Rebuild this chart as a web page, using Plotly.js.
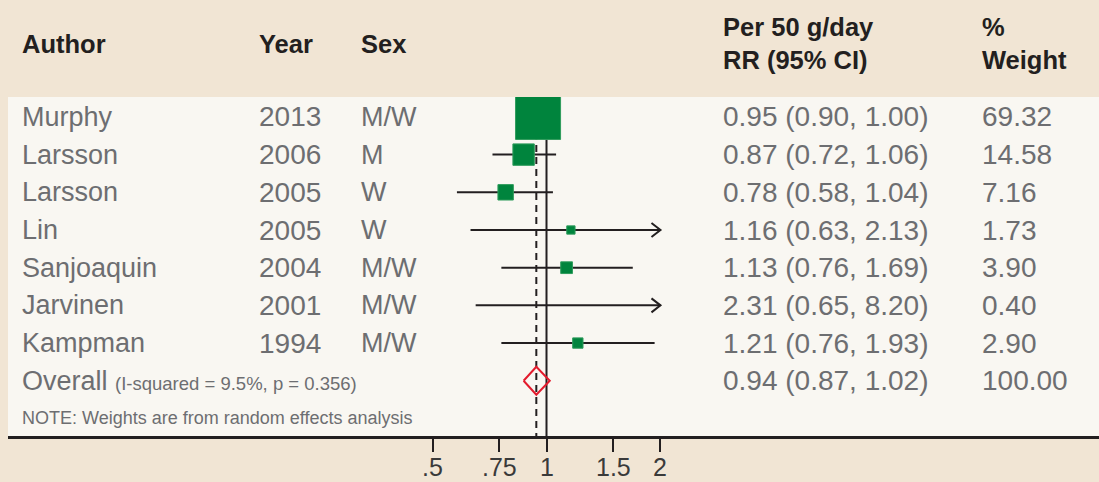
<!DOCTYPE html>
<html>
<head>
<meta charset="utf-8">
<script src="https://cdn.plot.ly/plotly-3.0.1.min.js"></script>
<style>html,body{margin:0;padding:0;background:#f1e5d4;}#chart{width:1099px;height:482px;}</style>
</head>
<body>
<div id="chart"></div>
<script>
// ---- data ----
const authors = ['Murphy','Larsson','Larsson','Lin','Sanjoaquin','Jarvinen','Kampman'];
const years = ['2013','2006','2005','2005','2004','2001','1994'];
const sexes = ['M/W','M','W','W','M/W','M/W','M/W'];
const rr = [0.95, 0.87, 0.78, 1.16, 1.13, 2.31, 1.21];
const ciLow = [0.90, 0.72, 0.58, 0.63, 0.76, 0.65, 0.76];
const ciHigh = [1.00, 1.06, 1.04, 2.13, 1.69, 8.20, 1.93];
const weights = [69.32, 14.58, 7.16, 1.73, 3.90, 0.40, 2.90];
const overallRR = 0.94, overallLow = 0.87, overallHigh = 1.02, overallWeight = 100.00;
const iSquared = 9.5, pValue = 0.356;
const tickVals = [0.5, 0.75, 1, 1.5, 2];
const tickText = ['.5', '.75', '1', '1.5', '2'];
const headers = ['Author', 'Year', 'Sex', 'Per 50 g/day<br>RR (95% CI)', '%<br>Weight'];
const noteText = 'NOTE: Weights are from random effects analysis';

// ---- styling ----
const FONT = 'Liberation Sans, Arial, sans-serif';
const DARK = '#231f20';
const GREY = '#6d6e71';
const GREEN = '#00843d';
const RED = '#e31b2d';
const axisMax = tickVals[tickVals.length - 1];
const plotLeft = 8, plotWidth = 1091, plotTop = 97, plotBottom = 436;
const plotH = plotBottom - plotTop;
const colPx = [20, 257, 359, 721, 980];
const colSize = [27, 28, 27, 28, 28];
const px2paper = p => (p - plotLeft) / plotWidth;
const py2paper = p => (plotBottom - p) / plotH;
const n = authors.length;
const yRows = authors.map((_, i) => -i);
const yOverall = -n;
const yNote = -(n + 1);
const yMax = 0.529, yMin = -8.466;

const traces = [];
// reference lines
traces.push({x: [1, 1], y: [yMax, yMin], mode: 'lines', line: {color: DARK, width: 2}, hoverinfo: 'skip'});
traces.push({x: [overallRR, overallRR], y: [yMax, yMin], mode: 'lines', line: {color: DARK, width: 2, dash: '7px,5px'}, hoverinfo: 'skip'});
// CI lines (clipped at axis max)
const ciX = [], ciY = [];
for (let i = 0; i < n; i++) {
  ciX.push(ciLow[i], Math.min(ciHigh[i], axisMax), null);
  ciY.push(yRows[i], yRows[i], null);
}
traces.push({x: ciX, y: ciY, mode: 'lines', line: {color: DARK, width: 2}, hoverinfo: 'skip'});
// weight boxes
const bx = [], by = [], bs = [];
for (let i = 0; i < n; i++) {
  if (rr[i] <= axisMax) { bx.push(rr[i]); by.push(yRows[i]); bs.push(1.4 + 5.24 * Math.sqrt(weights[i])); }
}
traces.push({x: bx, y: by, mode: 'markers', marker: {symbol: 'square', color: GREEN, opacity: 1, size: bs, line: {color: '#2f9c5c', width: 1}}, hoverinfo: 'skip'});
// overall diamond
const dh = 0.37;
traces.push({x: [overallLow, overallRR, overallHigh, overallRR, overallLow],
  y: [yOverall, yOverall + dh, yOverall, yOverall - dh, yOverall],
  mode: 'lines', line: {color: RED, width: 2}, hoverinfo: 'skip'});

// arrows for CIs beyond axis max
const shapes = [];
for (let i = 0; i < n; i++) {
  if (ciHigh[i] > axisMax) {
    shapes.push({type: 'path', xref: 'x', yref: 'y', xsizemode: 'pixel', ysizemode: 'pixel',
      xanchor: axisMax, yanchor: yRows[i], path: 'M-9,7L0,0L-9,-7', line: {color: DARK, width: 2}});
  }
}

const annotations = [];
const txt = (x, y, text, size, color) => ({
  xref: 'paper', yref: 'y', x: px2paper(x), y: y, text: text, showarrow: false,
  xanchor: 'left', yanchor: 'middle', align: 'left',
  font: {family: FONT, size: size, color: color}
});
// headers
headers.forEach((h, k) => {
  annotations.push({xref: 'paper', yref: 'paper', x: px2paper(colPx[k]), y: py2paper(44),
    text: h, showarrow: false, xanchor: 'left', yanchor: 'middle', align: 'left',
    font: {family: FONT, size: 25.5, color: DARK, weight: 700}});
});
// study rows
for (let i = 0; i < n; i++) {
  const cols = [authors[i], years[i], sexes[i],
    `${rr[i].toFixed(2)} (${ciLow[i].toFixed(2)}, ${ciHigh[i].toFixed(2)})`, weights[i].toFixed(2)];
  cols.forEach((c, k) => annotations.push(txt(colPx[k], yRows[i], c, colSize[k], GREY)));
}
// overall row
annotations.push(txt(colPx[0], yOverall, `Overall <span style="font-size:18.5px">(I-squared = ${iSquared}%, p = ${pValue})</span>`, 27, GREY));
annotations.push(txt(colPx[3], yOverall, `${overallRR.toFixed(2)} (${overallLow.toFixed(2)}, ${overallHigh.toFixed(2)})`, 28, GREY));
annotations.push(txt(colPx[4], yOverall, overallWeight.toFixed(2), 28, GREY));
annotations.push(txt(colPx[0], yNote, noteText, 18, GREY));
// tick labels
tickVals.forEach((v, k) => annotations.push({xref: 'x', yref: 'paper', x: Math.log10(v), y: py2paper(467),
  text: tickText[k], showarrow: false, xanchor: 'center', yanchor: 'middle',
  font: {family: FONT, size: 25, color: '#3a3a3a'}}));

const layout = {
  width: 1099, height: 482,
  margin: {l: plotLeft, r: 0, t: plotTop, b: 482 - plotBottom, pad: 0},
  paper_bgcolor: '#f1e5d4', plot_bgcolor: '#f9f7f2',
  showlegend: false,
  xaxis: {type: 'log', range: [-1.4223, 1.4593], showline: true, linecolor: DARK, linewidth: 3,
    ticks: 'outside', ticklen: 13, tickwidth: 2, tickcolor: DARK,
    tickvals: tickVals, ticktext: tickText, showticklabels: false,
    showgrid: false, zeroline: false, fixedrange: true},
  yaxis: {range: [yMin, yMax], visible: false, fixedrange: true},
  shapes: shapes, annotations: annotations
};
Plotly.newPlot('chart', traces, layout, {displayModeBar: false, staticPlot: true});
</script>
</body>
</html>
